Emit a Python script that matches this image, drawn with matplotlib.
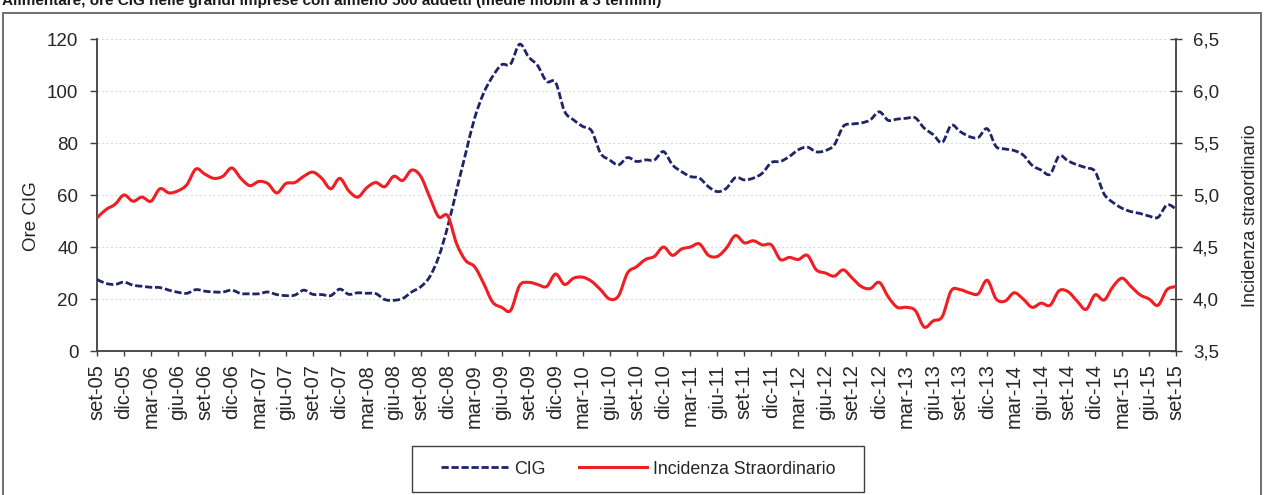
import numpy as np
import matplotlib
matplotlib.use("Agg")
import matplotlib.pyplot as plt
from matplotlib.path import Path
from matplotlib.patches import PathPatch, Rectangle
from matplotlib.lines import Line2D
from matplotlib.ticker import FuncFormatter

plt.rcParams['font.family'] = ['Liberation Sans', 'DejaVu Sans']

# Monthly series, set-05 .. set-15 (3-month moving averages)
ore_cig = [
    27.5, 26.0, 25.6, 26.5, 25.3, 24.9, 24.5, 24.4, 23.4, 22.6,
    22.2, 23.6, 23.0, 22.7, 22.7, 23.4, 22.1, 22.0, 22.0, 22.7,
    21.7, 21.3, 21.5, 23.4, 21.8, 21.7, 21.3, 23.8, 21.8, 22.4,
    22.2, 22.1, 19.8, 19.5, 20.2, 22.7, 24.7, 28.5, 36.2, 47.8,
    62.0, 76.0, 89.6, 99.2, 105.6, 110.1, 110.4, 118.0, 113.1, 109.8,
    103.7, 103.3, 92.2, 88.9, 86.4, 84.7, 76.1, 73.5, 71.6, 74.4,
    72.9, 73.5, 73.5, 76.7, 71.6, 69.0, 67.1, 66.5, 63.2, 61.3,
    62.6, 66.7, 65.8, 66.5, 68.4, 72.5, 72.9, 74.8, 77.4, 78.4,
    76.6, 77.1, 79.3, 86.4, 87.3, 87.7, 88.9, 92.0, 88.7, 89.2,
    89.5, 89.7, 85.7, 83.2, 80.2, 86.8, 84.4, 82.5, 82.1, 85.5,
    78.6, 77.7, 77.1, 75.4, 71.4, 69.6, 68.0, 75.0, 73.1, 71.6,
    70.5, 69.0, 60.4, 57.1, 54.9, 53.6, 52.9, 51.9, 51.4, 56.2,
    54.6,
]

incidenza_straord = [
    4.78, 4.86, 4.91, 5.00, 4.94, 4.98, 4.94, 5.06, 5.02, 5.04,
    5.10, 5.25, 5.20, 5.16, 5.18, 5.26, 5.16, 5.09, 5.13, 5.11,
    5.02, 5.11, 5.12, 5.18, 5.22, 5.16, 5.06, 5.16, 5.04, 4.98,
    5.07, 5.12, 5.08, 5.18, 5.14, 5.24, 5.18, 4.98, 4.79, 4.80,
    4.53, 4.37, 4.31, 4.15, 3.97, 3.92, 3.89, 4.13, 4.16, 4.14,
    4.12, 4.24, 4.14, 4.20, 4.21, 4.17, 4.09, 4.00, 4.03, 4.25,
    4.31, 4.38, 4.41, 4.50, 4.42, 4.48, 4.50, 4.53, 4.42, 4.41,
    4.49, 4.61, 4.54, 4.56, 4.52, 4.52, 4.38, 4.40, 4.38, 4.42,
    4.28, 4.25, 4.22, 4.28, 4.20, 4.12, 4.10, 4.16, 4.02, 3.92,
    3.92, 3.89, 3.73, 3.79, 3.83, 4.08, 4.09, 4.06, 4.05, 4.18,
    4.00, 3.98, 4.06, 4.00, 3.92, 3.96, 3.94, 4.08, 4.07, 3.98,
    3.90, 4.04, 3.99, 4.12, 4.20, 4.12, 4.04, 4.00, 3.94, 4.09,
    4.12,
]

tick_labels = [
    "set-05", "dic-05", "mar-06", "giu-06", "set-06", "dic-06", "mar-07",
    "giu-07", "set-07", "dic-07", "mar-08", "giu-08", "set-08", "dic-08",
    "mar-09", "giu-09", "set-09", "dic-09", "mar-10", "giu-10", "set-10",
    "dic-10", "mar-11", "giu-11", "set-11", "dic-11", "mar-12", "giu-12",
    "set-12", "dic-12", "mar-13", "giu-13", "set-13", "dic-13", "mar-14",
    "giu-14", "set-14", "dic-14", "mar-15", "giu-15", "set-15",
]

series_names = ["CIG", "Incidenza Straordinario"]
title_text = ("Alimentare, ore CIG nelle grandi imprese con almeno 500 addetti "
              "(medie mobili a 3 termini)")

CIG_COLOR = "#1f2466"
STR_COLOR = "#f01e23"
AXIS_COLOR = "#3f3f3f"
TEXT_COLOR = "#262626"


def smooth_path(xs, ys):
    """Cubic Bezier path through the points (Catmull-Rom style smoothing)."""
    pts = np.column_stack([xs, ys]).astype(float)
    n = len(pts)
    verts = [pts[0]]
    codes = [Path.MOVETO]
    for i in range(n - 1):
        p0 = pts[i - 1] if i > 0 else pts[i]
        p1 = pts[i]
        p2 = pts[i + 1]
        p3 = pts[i + 2] if i + 2 < n else pts[i + 1]
        verts += [p1 + (p2 - p0) / 6.0, p2 - (p3 - p1) / 6.0, p2]
        codes += [Path.CURVE4] * 3
    return Path(verts, codes)


W, H = 1264, 495
fig = plt.figure(figsize=(W / 100, H / 100), dpi=100)
ax = fig.add_axes([97 / W, 1 - 351 / H, (1176 - 97) / W, (351 - 39) / H])
ax2 = ax.twinx()

months = np.arange(len(ore_cig))

ax.set_xlim(0, len(ore_cig) - 1)
ax.set_ylim(0, 120)
ax2.set_ylim(3.5, 6.5)

ax.add_patch(PathPatch(smooth_path(months, ore_cig), fill=False,
                       edgecolor=CIG_COLOR, lw=2.0, linestyle=(0, (2.6, 1.0)),
                       capstyle='butt', joinstyle='round',
                       transform=ax.transData, zorder=3))
ax2.add_patch(PathPatch(smooth_path(months, incidenza_straord), fill=False,
                        edgecolor=STR_COLOR, lw=2.2, capstyle='round',
                        joinstyle='round', transform=ax2.transData, zorder=3))

# grid
ax.set_yticks(np.arange(0, 121, 20))
ax2.set_yticks(np.arange(3.5, 6.51, 0.5))
for v in range(20, 121, 20):
    ax.axhline(v, color="#dcdcdc", lw=0.8, linestyle=(0, (2, 2)), zorder=0)

# x axis
ax.set_xticks(np.arange(0, len(ore_cig), 3))
ax.set_xticklabels(tick_labels, rotation=90, fontsize=14.5, color=TEXT_COLOR,
                   va='top', ha='center')
ax.tick_params(axis='x', direction='out', length=3.6, width=1.0, color=AXIS_COLOR, pad=6)

# left y axis
ax.tick_params(axis='y', direction='out', length=5, width=1.0, color=AXIS_COLOR,
               pad=8.5, labelsize=13.5, labelcolor=TEXT_COLOR)
ax.set_ylabel("Ore CIG", fontsize=13.5, color=TEXT_COLOR)
ax.yaxis.set_label_coords((40 - 97) / (1176 - 97), (351 - 216) / 312)

# right y axis
ax2.yaxis.set_major_formatter(FuncFormatter(lambda v, p: f"{v:.1f}".replace(".", ",")))
ax2.tick_params(axis='y', direction='inout', length=8.6, width=1.0, color=AXIS_COLOR,
                pad=8, labelsize=13.5, labelcolor=TEXT_COLOR)
ax2.set_ylabel("Incidenza straordinario", fontsize=13, color=TEXT_COLOR, rotation=90)
ax2.yaxis.set_label_coords((1242 - 97) / (1176 - 97), (351 - 216) / 312)

for a in (ax, ax2):
    a.spines['top'].set_visible(False)
    for s in ('left', 'right', 'bottom'):
        a.spines[s].set_color(AXIS_COLOR)
        a.spines[s].set_linewidth(1.3)
ax.spines['right'].set_visible(False)
ax2.spines['left'].set_visible(False)
ax2.spines['bottom'].set_visible(False)

# legend
handles = [
    Line2D([], [], color=CIG_COLOR, lw=2.0, linestyle=(0, (2.6, 1.0))),
    Line2D([], [], color=STR_COLOR, lw=2.2),
]
leg = fig.legend(handles, series_names, loc='center', ncol=2, frameon=False,
                 bbox_to_anchor=(638 / W, 1 - 469 / H),
                 prop={'size': 12.8},
                 handlelength=3.8, handletextpad=0.35, columnspacing=1.85)
for t in leg.get_texts():
    t.set_color(TEXT_COLOR)
fig.add_artist(Rectangle((412 / W, 1 - 492 / H), 452 / W, 46 / H,
                         transform=fig.transFigure, fill=False,
                         edgecolor=AXIS_COLOR, lw=1.0))

# outer frame
fig.add_artist(Rectangle((3 / W, -0.01), (1261 - 3) / W, (H - 12.5) / H + 0.01,
                         transform=fig.transFigure, fill=False,
                         edgecolor="#6f6f6f", lw=1.4))

# heading (runs off the top edge)
fig.text(2 / W, 1 - 5 / H, title_text, fontsize=11, fontweight='bold',
         color="#1a1a1a", ha='left', va='baseline')

fig.savefig("out.png", dpi=100)
